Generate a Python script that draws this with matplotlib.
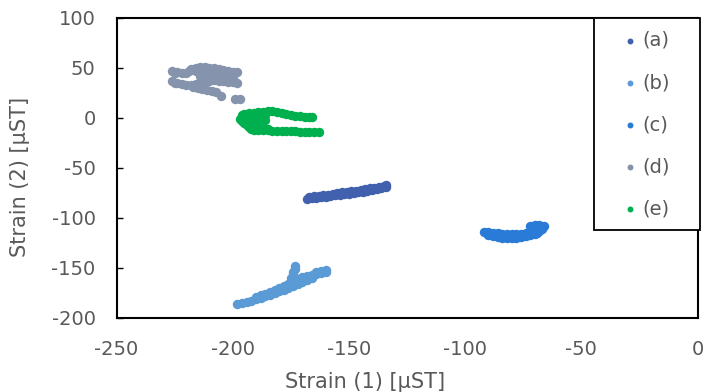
import matplotlib
matplotlib.use("Agg")
import matplotlib.pyplot as plt
from matplotlib.patches import Rectangle

plt.rcParams['font.family'] = ['DejaVu Sans']
plt.rcParams['axes.unicode_minus'] = False

# ---- data ----
a_x = [-168, -166, -164, -162, -160, -158, -156, -154, -152, -150, -148, -146, -144, -142, -140, -138, -136, -134,
       -167, -165, -163, -161, -159, -157, -155, -153, -151, -149, -147, -145, -143, -141, -139, -137, -135, -134]
a_y = [-81, -80, -80, -79, -79, -78, -77, -77, -76, -76, -75, -74, -74, -73, -72, -71, -70, -69,
       -79, -78, -78, -77, -77, -76, -75, -74, -74, -73, -73, -72, -71, -70, -70, -69, -68, -67]

b_x = [-198, -196, -194, -192, -190, -188, -186, -184, -182, -180, -178, -176, -174, -172, -170, -168, -166,
       -190, -188, -186, -184, -182, -180, -178, -176, -174,
       -175, -174, -174, -173, -173,
       -172, -170, -168, -166, -164, -162, -160, -160, -162, -164]
b_y = [-186, -185, -184, -183, -181, -180, -178, -177, -175, -173, -172, -170, -168, -166, -164, -162, -160,
       -179, -177, -176, -174, -172, -170, -168, -166, -163,
       -160, -157, -154, -151, -148,
       -161, -159, -158, -157, -156, -155, -154, -152, -153, -154]

c_x = [-92, -90, -88, -86, -84, -82, -80, -78, -76, -74, -72,
       -90, -88, -86, -84, -82, -80, -78, -76, -74, -72, -70,
       -69, -68, -67, -67, -68, -70, -72, -66, -70]
c_y = [-114, -114, -115, -115, -116, -116, -116, -116, -116, -115, -114,
       -117, -118, -119, -120, -120, -120, -120, -119, -118, -117, -116,
       -115, -113, -111, -109, -107, -107, -108, -108, -110]

d_x = [-226, -225, -224, -222, -220, -219,
       -218, -216, -214, -212, -210, -208, -206, -204, -202, -200, -198,
       -216, -214, -212, -210, -208, -206, -204, -202, -200,
       -214, -212, -210, -208, -206, -204, -202, -200,
       -226, -225, -224, -222, -220, -218, -216, -214, -212, -210, -208, -206, -204, -202, -200, -198,
       -217, -215, -213, -211, -209, -207, -205,
       -199, -197]
d_y = [47, 45, 46, 45, 45, 47,
       49, 50, 51, 51, 50, 50, 49, 48, 47, 46, 46,
       47, 47, 46, 45, 45, 45, 45, 44, 44,
       42, 42, 41, 41, 41, 41, 40, 40,
       37, 35, 35, 34, 33, 33, 34, 36, 37, 37, 38, 37, 37, 36, 36, 35,
       31, 30, 29, 28, 27, 26, 22,
       19, 19]

e_x = [-196, -195, -193, -191, -189, -187, -185, -183, -181, -179, -177, -175, -173, -171, -169, -167, -166,
       -196, -194, -192, -190, -188, -186,
       -197, -196, -195, -194, -193, -192, -194, -192, -190, -188, -186, -191, -189,
       -191, -189, -187, -185, -183, -181, -179, -177, -175, -173, -171, -169, -167, -165, -163,
       -189, -187, -185]
e_y = [3, 4, 5, 5, 6, 6, 7, 7, 6, 5, 4, 3, 2, 2, 1, 1, 1,
       1, 1, 2, 2, 2, 3,
       -1, -3, -5, -7, -9, -11, -2, -4, -3, -2, -2, -7, -6,
       -12, -12, -12, -12, -13, -13, -13, -13, -13, -13, -14, -14, -14, -14, -14,
       -10, -10, -11]

series_labels = ['(a)', '(b)', '(c)', '(d)', '(e)']
series_x = [a_x, b_x, c_x, d_x, e_x]
series_y = [a_y, b_y, c_y, d_y, e_y]
colors = ['#4161AE', '#5B9BD5', '#2A7AD8', '#8593AD', '#00B04F']

x_ticks = [-250, -200, -150, -100, -50, 0]
y_ticks = [-200, -150, -100, -50, 0, 50, 100]

# ---- figure ----
fig = plt.figure(figsize=(7.06, 3.92), dpi=100)
ax = fig.add_axes([116.5 / 706, 1 - 318 / 392, 581 / 706, 300 / 392])

for xs, ys, c, lab in zip(series_x, series_y, colors, series_labels):
    ax.scatter(xs, ys, s=46, color=c, label=lab, linewidths=0, zorder=3)

ax.set_xlim(-250, 0)
ax.set_ylim(-200, 100)
ax.set_xticks(x_ticks)
ax.set_yticks(y_ticks)

txt = '#595959'
for sp in ax.spines.values():
    sp.set_color('black')
    sp.set_linewidth(1.5)
ax.tick_params(axis='y', direction='in', length=4, width=1, color='black',
               labelsize=14, labelcolor=txt, pad=15)
ax.tick_params(axis='x', length=0, labelsize=14, labelcolor=txt, pad=16)

ax.set_xlabel('Strain (1) [µST]', fontsize=15, color=txt)
ax.set_ylabel('Strain (2) [µST]', fontsize=15, color=txt)
ax.xaxis.set_label_coords(0.428, -0.18)
ax.yaxis.set_label_coords(-0.149, 0.47)

# legend box
rect = Rectangle((594 / 706, 1 - 230 / 392), 106 / 706, 212 / 392,
                 transform=fig.transFigure, facecolor='white', edgecolor='black',
                 linewidth=1.3, zorder=5)
fig.patches.append(rect)

leg = fig.legend(loc='upper left', bbox_to_anchor=(620 / 706, 1 - 31 / 392),
                 frameon=False, fontsize=14, borderpad=0, borderaxespad=0,
                 handlelength=1.0, handletextpad=0.13, labelspacing=1.19,
                 markerscale=0.63)
leg.set_zorder(6)
for t in leg.get_texts():
    t.set_color(txt)

fig.savefig('out.png', dpi=100)
